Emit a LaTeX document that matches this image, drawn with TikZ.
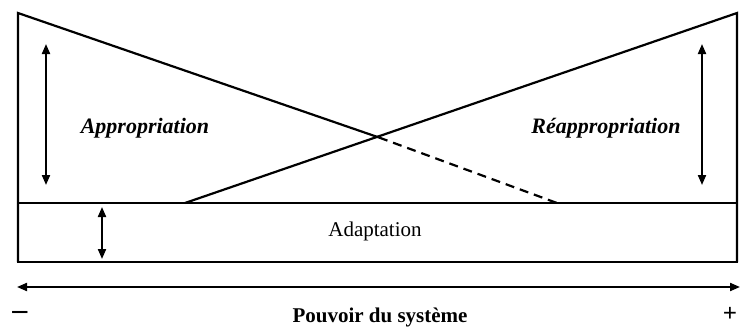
\documentclass[tikz,border=0pt]{standalone}
\usepackage{fontspec}
\setmainfont{Liberation Serif}
\usetikzlibrary{arrows.meta}
\begin{document}
\begin{tikzpicture}[x=1pt,y=-1pt,
  frame/.style={line width=2.2pt},
  dbl/.style={line width=2pt,{Triangle[length=10pt,width=8pt]}-{Triangle[length=10pt,width=8pt]}},
  lbl/.style={inner sep=0pt,anchor=base,font=\fontsize{21}{24}\selectfont},
  blbl/.style={lbl,font=\fontsize{22}{26}\selectfont\bfseries\itshape}]
\useasboundingbox (0,0) rectangle (741,327);
% corner points of the frame
\coordinate (tl) at (18,13);
\coordinate (tr) at (737,13);
\coordinate (ml) at (18,203);
\coordinate (mr) at (737,203);
\coordinate (bl) at (18,262);
\coordinate (br) at (737,262);
\coordinate (rs) at (185,203);
\coordinate (de) at (557,203);
\coordinate (x) at (379,137.5);
% outer frame and adaptation band
\draw[frame,line join=miter] (tl) -- (bl) -- (br) -- (tr);
\draw[frame] (ml) -- (mr);
% crossing lines
\draw[frame,line join=miter] (bl) -- (tl) -- (x);
\draw[frame,dash pattern=on 9pt off 6pt] (x) -- (de);
\draw[frame,line join=miter] (rs) -- (tr) -- (br);
% vertical double arrows
\coordinate (a1) at (46,44); \coordinate (a2) at (46,185);
\coordinate (b1) at (702,44); \coordinate (b2) at (702,185);
\coordinate (c1) at (102,207); \coordinate (c2) at (102,259);
\draw[dbl] (a1) -- (a2);
\draw[dbl] (b1) -- (b2);
\draw[dbl] (c1) -- (c2);
% horizontal axis
\coordinate (p1) at (17,287); \coordinate (p2) at (740,287);
\draw[dbl] (p1) -- (p2);
% labels
\node[blbl] (appr) at (145,133) {Appropriation};
\node[blbl] (reappr) at (606,133) {Réappropriation};
\node[lbl] (adapt) at (375,236) {Adaptation};
\node[lbl,font=\fontsize{21}{24}\selectfont\bfseries] (pouv) at (380,322) {Pouvoir du système};
\node[lbl,font=\fontsize{30}{32}\selectfont\bfseries] (minus) at (20,319) {\textendash};
\node[lbl,font=\fontsize{25}{28}\selectfont\bfseries] (plus) at (730,321) {+};
\end{tikzpicture}
\end{document}
